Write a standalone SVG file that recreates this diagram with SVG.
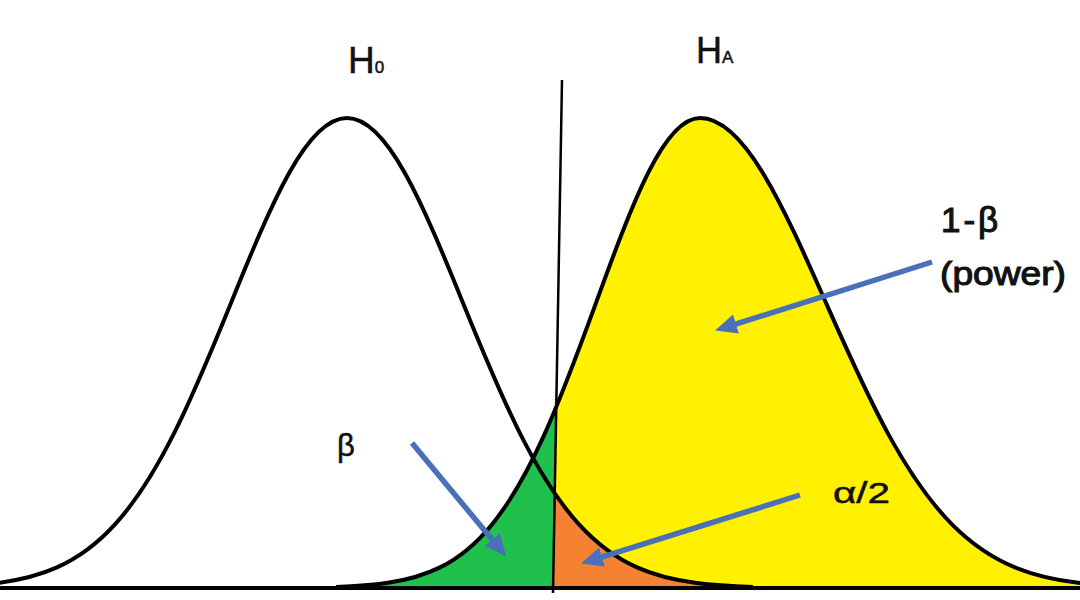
<svg xmlns="http://www.w3.org/2000/svg" width="1080" height="600" viewBox="0 0 1080 600">
<style>
.curve{fill:none;stroke:#000;stroke-width:4;stroke-linejoin:round}
.arrow{fill:none;stroke:#4A70B9;stroke-width:5.5;stroke-linecap:butt}
.lbl{font-family:"Liberation Sans",Arial,sans-serif;fill:#111;stroke:#111;stroke-width:0.5}
.bold{stroke-width:1.1}
</style>
<defs>
<marker id="ah" markerUnits="userSpaceOnUse" markerWidth="24" markerHeight="22" refX="8" refY="10" orient="auto">
<path d="M0,0 L22,10 L0,20 z" fill="#4A70B9"/>
</marker>
<clipPath id="leftSide"><polygon points="-100,0 563.4,0 552.9,600 -100,600"/></clipPath>
<clipPath id="rightSide"><polygon points="563.4,0 1200,0 1200,600 552.9,600"/></clipPath>
<path id="h0" d="M -59,587 C -39.7,586.4 -20.3,585.4 -1,582.8 C 18.3,580.2 37.7,576.0 57,567.4 C 76.3,558.8 95.7,545.6 115,524.4 C 134.3,503.2 153.7,473.6 173,435.4 C 192.3,397.3 211.7,350.4 231,302.9 C 250.3,255.4 269.7,207.8 289,173.2 C 308.3,138.6 327.7,118 347,118 C 366.3,118 385.7,138.6 405,173.2 C 424.3,207.8 443.7,255.4 463,302.9 C 482.3,350.4 501.7,397.3 521,435.4 C 540.3,473.6 559.7,503.2 579,524.4 C 598.3,545.6 617.7,558.8 637,567.4 C 656.3,576.0 675.7,580.2 695,582.8 C 714.3,585.4 733.7,586.4 753,587"/>
<path id="ha" d="M 336,587 C 353.3,586.4 370.7,585.4 388,582.8 C 405.3,580.2 422.7,576.0 440,567.4 C 457.3,558.8 474.7,545.6 492,524.4 C 509.3,503.2 526.7,473.6 544,435.4 C 561.3,397.3 578.7,350.4 596,302.9 C 613.3,255.4 630.7,207.8 648,173.2 C 665.3,138.6 682.7,118 700,118 C 721,118 742,138.6 763,173.2 C 784,207.8 805,255.4 826,302.9 C 847,350.4 868,397.3 889,435.4 C 910,473.6 931,503.2 952,524.4 C 973,545.6 994,558.8 1015,567.4 C 1036,576.0 1057,580.2 1078,582.8 C 1099,585.4 1120,586.4 1141,587"/>
</defs>
<rect width="1080" height="600" fill="#fff"/>
<g id="regions">
<path d="M 336,587 C 353.3,586.4 370.7,585.4 388,582.8 C 405.3,580.2 422.7,576.0 440,567.4 C 457.3,558.8 474.7,545.6 492,524.4 C 509.3,503.2 526.7,473.6 544,435.4 C 561.3,397.3 578.7,350.4 596,302.9 C 613.3,255.4 630.7,207.8 648,173.2 C 665.3,138.6 682.7,118 700,118 C 721,118 742,138.6 763,173.2 C 784,207.8 805,255.4 826,302.9 C 847,350.4 868,397.3 889,435.4 C 910,473.6 931,503.2 952,524.4 C 973,545.6 994,558.8 1015,567.4 C 1036,576.0 1057,580.2 1078,582.8 C 1099,585.4 1120,586.4 1141,587 L 1141,589 L 336,589 Z" fill="#FFF100" clip-path="url(#rightSide)"/>
<path d="M 336,587 C 353.3,586.4 370.7,585.4 388,582.8 C 405.3,580.2 422.7,576.0 440,567.4 C 457.3,558.8 474.7,545.6 492,524.4 C 509.3,503.2 526.7,473.6 544,435.4 C 561.3,397.3 578.7,350.4 596,302.9 L 596,589 L 336,589 Z" fill="#1FC04B" clip-path="url(#leftSide)"/>
<path d="M 521,435.4 C 540.3,473.6 559.7,503.2 579,524.4 C 598.3,545.6 617.7,558.8 637,567.4 C 656.3,576.0 675.7,580.2 695,582.8 C 714.3,585.4 733.7,586.4 753,587 L 753,589 L 521,589 Z" fill="#F58232" clip-path="url(#rightSide)"/>
</g>
<g id="H0-curve"><use href="#h0" class="curve"/></g>
<g id="HA-curve"><use href="#ha" class="curve"/></g>
<g id="axes">
<line x1="0" y1="588" x2="1080" y2="588" stroke="#000" stroke-width="4"/>
<line x1="562" y1="80" x2="553" y2="593" stroke="#000" stroke-width="2.5"/>
</g>
<g id="connectors">
<line class="arrow" x1="932" y1="262" x2="728.4" y2="326.4" marker-end="url(#ah)"/>
<line class="arrow" x1="412" y1="443" x2="497.3" y2="545.8" marker-end="url(#ah)"/>
<line class="arrow" x1="800" y1="495" x2="594.4" y2="559.4" marker-end="url(#ah)"/>
</g>
<g id="label-H0"><text class="lbl" x="348" y="73" font-size="37">H<tspan font-size="17">0</tspan></text></g>
<g id="label-HA"><text class="lbl" x="696" y="63" font-size="36">H<tspan font-size="17">A</tspan></text></g>
<g id="label-power"><text class="lbl bold" x="941" y="232" font-size="35" letter-spacing="3">1-β</text>
<text class="lbl bold" x="940" y="285" font-size="34" textLength="126" lengthAdjust="spacingAndGlyphs">(power)</text></g>
<g id="label-beta"><text class="lbl" x="337" y="456" font-size="31">β</text></g>
<g id="label-alpha"><text class="lbl" x="833" y="503" font-size="29" textLength="57" lengthAdjust="spacingAndGlyphs">α/2</text></g>
</svg>
